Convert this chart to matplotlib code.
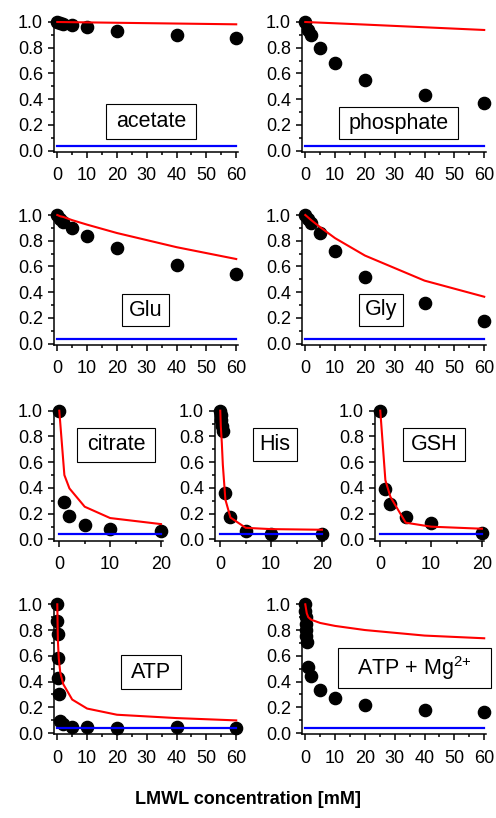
import matplotlib
matplotlib.use("Agg")
import matplotlib.pyplot as plt
from matplotlib.patches import Rectangle
from matplotlib.ticker import MultipleLocator, FormatStrFormatter

plt.rcParams['font.family'] = ['Liberation Sans', 'DejaVu Sans']
plt.rcParams['mathtext.fontset'] = 'custom'
plt.rcParams['mathtext.rm'] = 'Liberation Sans'

W, H = 496, 818

# ---- data: relative signal vs. LMWL concentration (mM) ----
acetate_x = [0, 1, 2, 5, 10, 20, 40, 60]
acetate_y = [1.0, 0.99, 0.985, 0.977, 0.964, 0.933, 0.90, 0.878]
acetate_fit_x = [0, 10, 20, 40, 60]
acetate_fit_y = [1.0, 0.997, 0.994, 0.988, 0.982]

phosphate_x = [0, 1, 2, 5, 10, 20, 40, 60]
phosphate_y = [1.0, 0.94, 0.90, 0.795, 0.68, 0.55, 0.433, 0.368]
phosphate_fit_x = [0, 10, 20, 40, 60]
phosphate_fit_y = [1.0, 0.99, 0.98, 0.959, 0.938]

glu_x = [0, 1, 2, 5, 10, 20, 40, 60]
glu_y = [1.0, 0.97, 0.945, 0.90, 0.837, 0.745, 0.615, 0.545]
glu_fit_x = [0, 1, 2, 5, 10, 20, 40, 60]
glu_fit_y = [1.0, 0.99, 0.985, 0.96, 0.925, 0.86, 0.75, 0.658]

gly_x = [0, 1, 2, 5, 10, 20, 40, 60]
gly_y = [1.0, 0.97, 0.94, 0.86, 0.72, 0.515, 0.315, 0.178]
gly_fit_x = [0, 1, 2, 5, 10, 20, 40, 60]
gly_fit_y = [1.0, 0.98, 0.96, 0.905, 0.82, 0.685, 0.49, 0.365]

citrate_x = [0, 1, 2, 5, 10, 20]
citrate_y = [1.0, 0.29, 0.185, 0.111, 0.078, 0.067]
citrate_fit_x = [0, 1, 2, 5, 10, 20]
citrate_fit_y = [1.0, 0.50, 0.396, 0.254, 0.166, 0.119]

his_x = [0, 0.1, 0.2, 0.3, 0.5, 1, 2, 5, 10, 20]
his_y = [1.0, 0.97, 0.93, 0.88, 0.84, 0.36, 0.175, 0.068, 0.042, 0.042]
his_fit_x = [0, 0.1, 0.3, 0.5, 1, 2, 5, 10, 20]
his_fit_y = [1.0, 0.88, 0.75, 0.58, 0.31, 0.17, 0.09, 0.08, 0.075]

gsh_x = [0, 1, 2, 5, 10, 20]
gsh_y = [1.0, 0.39, 0.275, 0.177, 0.13, 0.052]
gsh_fit_x = [0, 1, 2, 5, 10, 20]
gsh_fit_y = [1.0, 0.46, 0.33, 0.13, 0.099, 0.083]

atp_x = [0, 0.05, 0.1, 0.2, 0.3, 0.5, 1, 2, 5, 10, 20, 40, 60]
atp_y = [1.0, 0.87, 0.77, 0.58, 0.425, 0.30, 0.09, 0.07, 0.05, 0.047, 0.04, 0.043, 0.038]
atp_fit_x = [0, 0.2, 0.5, 1, 2, 5, 10, 20, 40, 60]
atp_fit_y = [1.0, 0.72, 0.58, 0.47, 0.38, 0.26, 0.19, 0.142, 0.116, 0.098]

atpmg_x = [0, 0.05, 0.1, 0.2, 0.3, 0.4, 0.5, 1, 2, 5, 10, 20, 40, 60]
atpmg_y = [1.0, 0.95, 0.90, 0.85, 0.80, 0.75, 0.71, 0.51, 0.44, 0.336, 0.271, 0.22, 0.181, 0.16]
atpmg_fit_x = [0, 0.5, 1, 2, 5, 10, 20, 40, 60]
atpmg_fit_y = [1.0, 0.93, 0.90, 0.88, 0.855, 0.832, 0.80, 0.757, 0.736]

baseline_y = 0.04

panels = [
    # name, x, y, fit x, fit y, xmax, axes rect (px: left, top, width, height),
    # label box (px: left, top, right, bottom)
    ("acetate", acetate_x, acetate_y, acetate_fit_x, acetate_fit_y, 60,
     (54, 22, 184.3, 130), (106, 104, 196, 139)),
    ("phosphate", phosphate_x, phosphate_y, phosphate_fit_x, phosphate_fit_y, 60,
     (302, 22, 184.3, 130), (338.7, 107, 458, 139)),
    ("Glu", glu_x, glu_y, glu_fit_x, glu_fit_y, 60,
     (54, 215, 184.3, 130), (122, 294, 169, 326)),
    ("Gly", gly_x, gly_y, gly_fit_x, gly_fit_y, 60,
     (302, 215, 184.3, 130), (359, 294, 403, 326)),
    ("citrate", citrate_x, citrate_y, citrate_fit_x, citrate_fit_y, 20,
     (54, 410.7, 109, 130), (77, 427.7, 155, 461.7)),
    ("His", his_x, his_y, his_fit_x, his_fit_y, 20,
     (215, 410.7, 109, 130), (252.7, 428, 296.7, 460.7)),
    ("GSH", gsh_x, gsh_y, gsh_fit_x, gsh_fit_y, 20,
     (375, 410.7, 109, 130), (403.3, 428, 465, 460.7)),
    ("ATP", atp_x, atp_y, atp_fit_x, atp_fit_y, 60,
     (54, 604.3, 184.3, 130), (120.7, 655, 180.7, 689.3)),
    ("ATP + Mg$^{2{+}}$", atpmg_x, atpmg_y, atpmg_fit_x, atpmg_fit_y, 60,
     (302, 604.3, 184.3, 130), (338, 647.7, 490.7, 688.3)),
]

fig = plt.figure(figsize=(W / 100, H / 100), dpi=100)

for name, x, y, fx, fy, xmax, (l, t, w, h), (bl, bt, br, bb) in panels:
    ax = fig.add_axes([l / W, 1 - (t + h) / H, w / W, h / H])
    ax.set_facecolor('none')
    if xmax == 60:
        ax.set_xlim(-1.1, 60.7)
    else:
        ax.set_xlim(-1.04, 20.4)
    ax.xaxis.set_major_locator(MultipleLocator(10))
    ax.xaxis.set_minor_locator(MultipleLocator(5))
    ax.set_ylim(-0.01, 1.0)
    ax.yaxis.set_major_locator(MultipleLocator(0.2))
    ax.yaxis.set_minor_locator(MultipleLocator(0.1))
    ax.yaxis.set_major_formatter(FormatStrFormatter('%.1f'))

    for s in ('top', 'right'):
        ax.spines[s].set_visible(False)
    for s in ('left', 'bottom'):
        ax.spines[s].set_linewidth(1.1)
    ax.tick_params(which='major', direction='out', length=4, width=1.1,
                   labelsize=13)
    ax.tick_params(axis='x', which='major', pad=7)
    ax.tick_params(axis='y', which='major', pad=4)
    ax.tick_params(which='minor', direction='out', length=2.5, width=1.1)

    ax.plot(x, y, 'o', color='black', ms=8.8, clip_on=False, zorder=2)
    ax.plot([0, xmax], [baseline_y, baseline_y], color='#0000FF', lw=1.6,
            clip_on=False, zorder=3)
    ax.plot(fx, fy, color='#FF0000', lw=1.5, clip_on=False, zorder=4)

    # framed sample label
    x0 = (bl - l) / w
    x1 = (br - l) / w
    y0 = 1 - (bb - t) / h
    y1 = 1 - (bt - t) / h
    ax.add_patch(Rectangle((x0, y0), x1 - x0, y1 - y0, transform=ax.transAxes,
                           facecolor='white', edgecolor='black', lw=0.8,
                           clip_on=False, zorder=5))
    ax.text((x0 + x1) / 2, (y0 + y1) / 2, name, transform=ax.transAxes,
            ha='center', va='center', fontsize=15.5, zorder=6)

fig.text(248 / W, 1 - 800 / H, 'LMWL concentration [mM]', ha='center',
         va='center', fontsize=13, fontweight='bold')

fig.savefig('out.png', dpi=100)
